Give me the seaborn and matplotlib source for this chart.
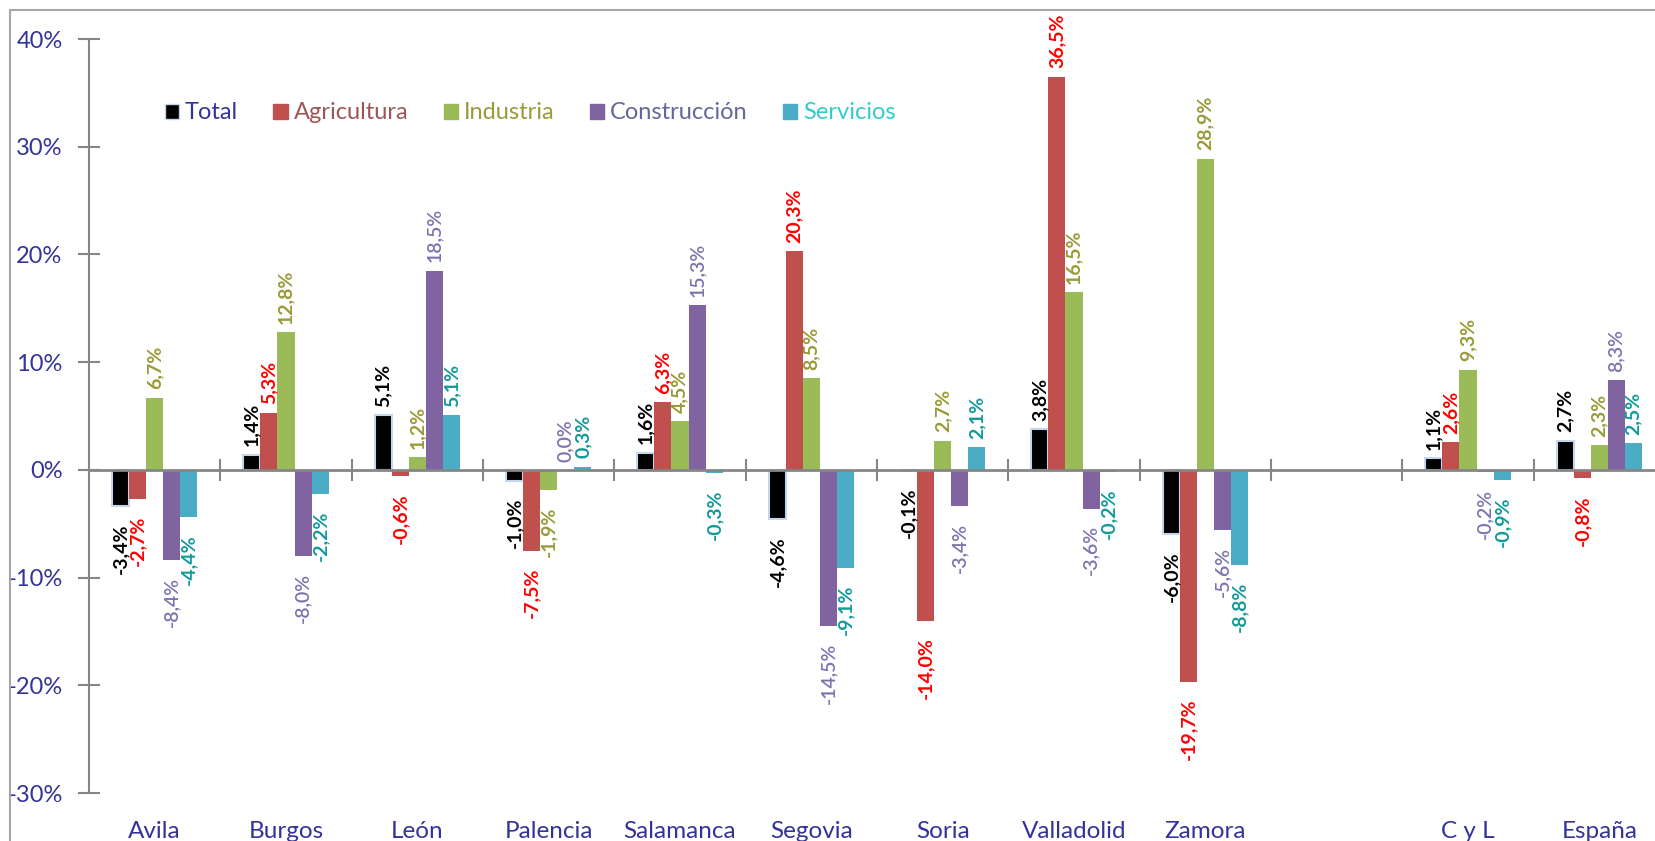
import pandas as pd
import matplotlib.pyplot as plt
import matplotlib.transforms as mtransforms
from matplotlib.patches import Rectangle, Patch
import numpy as np
import seaborn as sns

regions = ['Avila', 'Burgos', 'León', 'Palencia', 'Salamanca', 'Segovia',
           'Soria', 'Valladolid', 'Zamora', ' ', 'C y L', 'España']
sectors = ['Total', 'Agricultura', 'Industria', 'Construcción', 'Servicios']

# variation (%) per region; the blank slot ' ' has no data
total        = [-3.4, 1.4, 5.1, -1.0, 1.6, -4.6, -0.1, 3.8, -6.0, 1.1, 2.7]
agricultura  = [-2.7, 5.3, -0.6, -7.5, 6.3, 20.3, -14.0, 36.5, -19.7, 2.6, -0.8]
industria    = [6.7, 12.8, 1.2, -1.9, 4.5, 8.5, 2.7, 16.5, 28.9, 9.3, 2.3]
construccion = [-8.4, -8.0, 18.5, 0.0, 15.3, -14.5, -3.4, -3.6, -5.6, -0.2, 8.3]
servicios    = [-4.4, -2.2, 5.1, 0.3, -0.3, -9.1, 2.1, -0.2, -8.8, -0.9, 2.5]

bar_colors = ['#000000', '#C0504D', '#9BBB59', '#8064A2', '#4BACC6']
label_colors = ['#000000', '#FF0000', '#9A9A38', '#7A74AE', '#139A9A']
legend_text_colors = ['#333399', '#A05555', '#9A9A3A', '#66669A', '#33CCCC']
navy = '#333399'
grey = '#868686'

data_regions = [r for r in regions if r.strip()]
series = [total, agricultura, industria, construccion, servicios]
rows = []
for s, vals in zip(sectors, series):
    for r, v in zip(data_regions, vals):
        rows.append({'region': r, 'sector': s, 'value': v})
df = pd.DataFrame(rows)

sns.set_style('white')
plt.rcParams['font.family'] = ['Lato', 'DejaVu Sans']

fig = plt.figure(figsize=(16.56, 8.41), dpi=100)
W, H = 1656, 841
ax = fig.add_axes([89 / W, 1 - 793 / H, (1665 - 89) / W, (793 - 39) / H])

sns.barplot(data=df, x='region', y='value', hue='sector', order=regions,
            hue_order=sectors, palette=bar_colors, saturation=1, width=0.65,
            errorbar=None, legend=False, ax=ax, linewidth=0)

# light outline on the Total bars
for p in ax.containers[0]:
    p.set_edgecolor('#C5D5EA')
    p.set_linewidth(1.5)

# value labels
for cont, col, s in zip(ax.containers, label_colors, sectors):
    weight = 'semibold' if s == 'Construcción' else 'bold'
    for p in cont:
        h = p.get_height()
        if np.isnan(h):
            continue
        txt = f'{h:.1f}%'.replace('.', ',')
        xc = p.get_x() + p.get_width() / 2
        if h >= 0:
            ax.annotate(txt, (xc, h), xytext=(0, 6), textcoords='offset points',
                        rotation=90, ha='center', va='bottom', color=col,
                        fontsize=14, fontweight=weight)
        else:
            ax.annotate(txt, (xc, h), xytext=(0, -12), textcoords='offset points',
                        rotation=90, ha='center', va='top', color=col,
                        fontsize=14, fontweight=weight)

ax.set_xlim(-0.5, len(regions) - 0.5)
ax.set_ylim(-30, 40)
ax.set_yticks(np.arange(-30, 41, 10))
ax.set_yticklabels([f'{t}%' for t in range(-30, 41, 10)])
ax.tick_params(axis='y', direction='inout', length=16, width=1.5, color=grey,
               labelcolor=navy, labelsize=17, pad=11, left=True)

# horizontal axis crossing at zero with ticks between categories
ax.spines['bottom'].set_position(('data', 0))
ax.spines['bottom'].set_color(grey)
ax.spines['bottom'].set_linewidth(2)
ax.spines['left'].set_color(grey)
ax.spines['left'].set_linewidth(1.5)
ax.spines['top'].set_visible(False)
ax.spines['right'].set_visible(False)
ax.set_xticks(np.arange(len(regions)))
ax.set_xticklabels([])
ax.tick_params(axis='x', which='major', length=0)
ax.set_xticks(np.arange(len(regions)) + 0.5, minor=True)
ax.tick_params(axis='x', which='minor', direction='inout', length=16, width=1.5,
               color=grey, bottom=True)
ax.set_xlabel('')
ax.set_ylabel('')
ax.grid(False)

trans = mtransforms.blended_transform_factory(ax.transData, ax.transAxes)
for i, r in enumerate(regions):
    ax.text(i, -0.0595, r, transform=trans, ha='center', va='baseline',
            color=navy, fontsize=17.5, clip_on=False)

# legend
handles = [Patch(facecolor=c, edgecolor='#C5D5EA' if i == 0 else c)
           for i, c in enumerate(bar_colors)]
leg = fig.legend(handles, sectors, loc='center left',
                 bbox_to_anchor=(153 / W, 1 - 113 / H), ncol=5, frameon=False,
                 fontsize=17, handlelength=0.6, handleheight=0.6,
                 handletextpad=0.25, columnspacing=1.5, borderpad=0)
for t, c in zip(leg.get_texts(), legend_text_colors):
    t.set_color(c)

# chart area border
fig.patches.append(Rectangle((10 / W, -0.01), 1.0, 1 - 10 / H + 0.01,
                             transform=fig.transFigure, fill=False,
                             edgecolor='#A6A6A6', linewidth=1.5))

fig.savefig('out.png', dpi=100)
